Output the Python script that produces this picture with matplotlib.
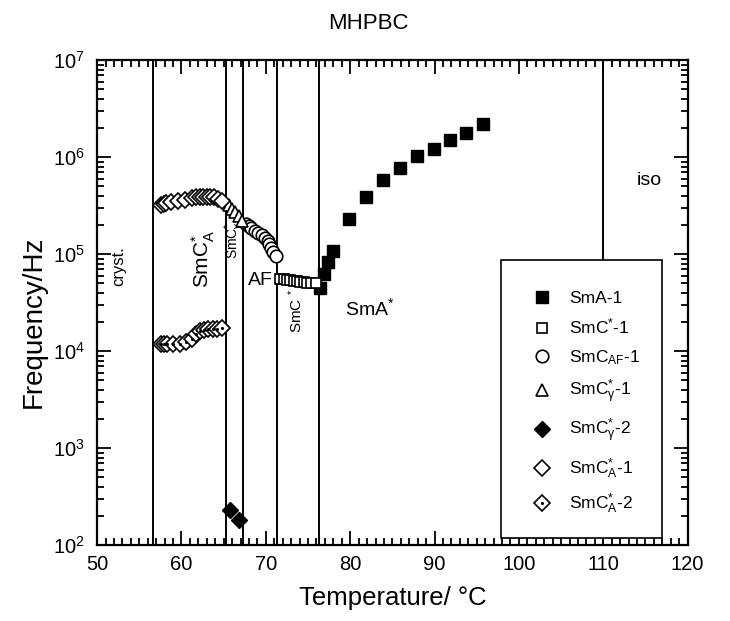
import matplotlib
matplotlib.use("Agg")
import matplotlib.pyplot as plt
import numpy as np
from matplotlib.patches import Rectangle
from matplotlib.ticker import MultipleLocator, LogLocator, NullFormatter

plt.rcParams['font.family'] = ['Liberation Sans', 'DejaVu Sans']
plt.rcParams['mathtext.fontset'] = 'custom'
plt.rcParams['mathtext.rm'] = 'Liberation Sans'
plt.rcParams['mathtext.it'] = 'Liberation Sans:italic'
plt.rcParams['mathtext.default'] = 'rm'

# phase boundaries (degC)
boundaries = [56.6, 65.3, 67.3, 71.35, 76.3, 110.0]

# SmA-1 (filled squares)
sma_T = [76.4, 76.9, 77.4, 78.0, 79.9, 81.9, 83.9, 85.9, 87.9, 89.9, 91.8, 93.7, 95.7]
sma_f = [4.5e4, 6.2e4, 8.3e4, 1.07e5, 2.3e5, 3.9e5, 5.8e5, 7.7e5, 1.03e6, 1.23e6, 1.49e6, 1.79e6, 2.2e6]

# SmC*-1 (open squares)
smc_T = [71.7, 72.1, 72.5, 72.9, 73.3, 73.7, 74.1, 74.5, 74.9, 75.3, 75.9]
smc_f = [5.6e4, 5.5e4, 5.4e4, 5.4e4, 5.3e4, 5.3e4, 5.2e4, 5.2e4, 5.1e4, 5.1e4, 5.0e4]

# SmC_AF-1 (open circles)
smcaf_T = [67.6, 68.0, 68.3, 68.7, 69.1, 69.5, 69.9, 70.2, 70.4, 70.6, 70.9, 71.2]
smcaf_f = [2.05e5, 1.95e5, 1.86e5, 1.74e5, 1.66e5, 1.58e5, 1.48e5, 1.38e5, 1.29e5, 1.17e5, 1.05e5, 9.5e4]

# SmC_gamma*-1 (open triangles)
smcg1_T = [65.6, 66.0, 66.4, 66.8, 67.2]
smcg1_f = [3.2e5, 2.95e5, 2.75e5, 2.5e5, 2.2e5]

# SmC_gamma*-2 (filled diamonds)
smcg2_T = [65.7, 66.85]
smcg2_f = [230, 180]

# SmC_A*-1 (open diamonds)
smca1_T = [57.6, 57.9, 58.2, 58.8, 59.6, 60.4, 61.2, 61.7, 62.2, 62.6, 63.0, 63.4, 63.8, 64.3, 64.8]
smca1_f = [3.2e5, 3.3e5, 3.35e5, 3.45e5, 3.55e5, 3.65e5, 3.8e5, 3.85e5, 3.9e5, 3.9e5, 3.9e5, 3.9e5, 3.85e5, 3.75e5, 3.5e5]

# SmC_A*-2 (dotted diamonds)
smca2_T = [57.6, 57.9, 58.3, 59.0, 59.8, 60.5, 61.2, 61.7, 62.2, 62.7, 63.2, 63.7, 64.2, 64.8]
smca2_f = [1.2e4, 1.2e4, 1.2e4, 1.2e4, 1.2e4, 1.25e4, 1.35e4, 1.5e4, 1.6e4, 1.65e4, 1.7e4, 1.7e4, 1.7e4, 1.75e4]

legend_labels = ['SmA-1', 'SmC$^{*}$-1', 'SmC$_{AF}$-1', 'SmC$_{\\gamma}^{*}$-1',
                 'SmC$_{\\gamma}^{*}$-2', 'SmC$_{A}^{*}$-1', 'SmC$_{A}^{*}$-2']

fig = plt.figure(figsize=(7.3, 6.21), dpi=100)
ax = fig.add_axes([0.133, 0.122, 0.809, 0.781])

for b in boundaries:
    ax.axvline(b, color='black', lw=1.4, zorder=1)

ms = 8
h1, = ax.plot(sma_T, sma_f, 's', ms=ms, mfc='black', mec='black', ls='none')
h2, = ax.plot(smc_T, smc_f, 's', ms=7, mfc='white', mec='black', mew=1.2, ls='none')
h3, = ax.plot(smcaf_T, smcaf_f, 'o', ms=9, mfc='white', mec='black', mew=1.2, ls='none')
h4, = ax.plot(smcg1_T, smcg1_f, '^', ms=9, mfc='white', mec='black', mew=1.2, ls='none')
h5, = ax.plot(smcg2_T, smcg2_f, 'D', ms=8, mfc='black', mec='black', ls='none')
h6, = ax.plot(smca1_T, smca1_f, 'D', ms=8, mfc='white', mec='black', mew=1.2, ls='none')
h7a, = ax.plot(smca2_T, smca2_f, 'D', ms=8, mfc='white', mec='black', mew=1.2, ls='none')
h7b, = ax.plot(smca2_T, smca2_f, '.', ms=2.5, color='black', ls='none')

ax.set_yscale('log')
ax.set_xlim(50, 120)
ax.set_ylim(1e2, 1e7)
ax.xaxis.set_major_locator(MultipleLocator(10))
ax.xaxis.set_minor_locator(MultipleLocator(1))
ax.yaxis.set_major_locator(LogLocator(base=10, numticks=10))
ax.yaxis.set_minor_locator(LogLocator(base=10, subs=np.arange(2, 10), numticks=10))
ax.yaxis.set_minor_formatter(NullFormatter())
ax.tick_params(which='both', direction='in', top=True, right=True, width=1.3)
ax.tick_params(which='major', length=10, labelsize=14.5)
ax.tick_params(axis='x', which='major', pad=7)
ax.tick_params(axis='y', which='major', pad=9)
ax.tick_params(which='minor', length=5)
for s in ax.spines.values():
    s.set_linewidth(1.6)

ax.set_xlabel('Temperature/ °C', fontsize=18.5, labelpad=9)
ax.set_ylabel('Frequency/Hz', fontsize=20)
ax.yaxis.set_label_coords(-0.085, 0.46)
fig.text(0.505, 0.962, 'MHPBC', ha='center', va='center', fontsize=16)

# phase labels
ax.text(52.6, 7.5e4, 'cryst.', rotation=90, ha='center', va='center', fontsize=12)
ax.text(62.6, 9.0e4, 'SmC$_{A}^{*}$', rotation=90, ha='center', va='center', fontsize=15)
ax.text(66.3, 1.4e5, 'SmC$_{\\gamma}^{*}$', rotation=90, ha='center', va='center', fontsize=10)
ax.text(69.3, 5.4e4, 'AF', ha='center', va='center', fontsize=14)
ax.text(73.6, 2.6e4, 'SmC $^{*}$', rotation=90, ha='center', va='center', fontsize=11)
ax.text(82.3, 2.8e4, 'SmA$^{*}$', ha='center', va='center', fontsize=14)
ax.text(115.5, 5.8e5, 'iso', ha='center', va='center', fontsize=14)

# legend box drawn by hand so the padding can differ per side
box = Rectangle((0.684, 0.014), 0.272, 0.574, transform=ax.transAxes,
                facecolor='white', edgecolor='black', lw=1.2, zorder=4)
ax.add_patch(box)
leg = ax.legend([h1, h2, h3, h4, h5, h6, (h7a, h7b)], legend_labels,
                loc='upper left', bbox_to_anchor=(0.738, 0.525),
                fontsize=12.5, frameon=False, labelspacing=0.64,
                borderpad=0, borderaxespad=0, handlelength=1.0,
                handletextpad=1.1)
leg.set_zorder(5)

fig.savefig('out.png', dpi=100)
